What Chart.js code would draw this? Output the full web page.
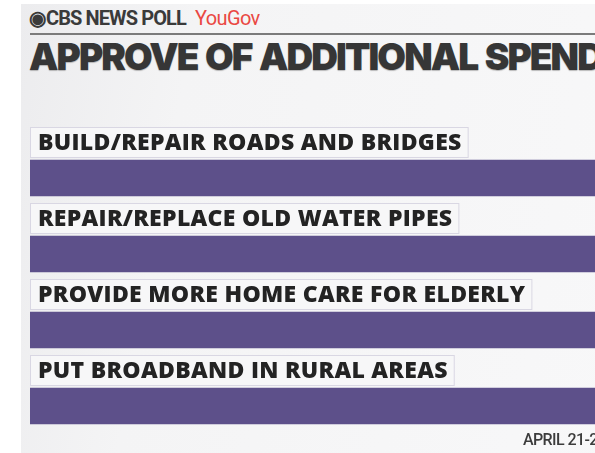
<!DOCTYPE html>
<html>
<head>
<meta charset="utf-8">
<script src="https://cdn.jsdelivr.net/npm/chart.js@4.4.1/dist/chart.umd.min.js"></script>
<style>
html, body { margin: 0; padding: 0; background: #fff; }
#wrap { position: relative; width: 595px; height: 453px; overflow: hidden; }
#panel { position: absolute; left: 21px; top: 4px; width: 620px; height: 470px;
  background: linear-gradient(100deg, #ececee 0%, #f4f4f5 25%, #f8f8f9 100%); }
#logo { position: absolute; left: 29px; top: 6px; font: bold 20px Roboto; letter-spacing: -0.9px;
  color: #3a3a3a; white-space: nowrap; }
#logo .eye { font-size: 20px; letter-spacing: 0; }
#logo .yg { color: #ea4843; font-weight: normal; margin-left: 9px; letter-spacing: -0.6px; }
#rule { position: absolute; left: 30px; top: 33px; width: 600px; height: 2px; background: #7b7b7b; }
#title { position: absolute; left: 29px; top: 34px; font: 900 37px Inter; letter-spacing: -1.9px;
  word-spacing: 2px; color: #363636; white-space: nowrap; text-shadow: 0 1px 1px rgba(0,0,0,0.25); }
#date { position: absolute; left: 523px; top: 430px; font: 500 16px Roboto; letter-spacing: -0.6px;
  color: #3c3c3c; white-space: nowrap; }
canvas { position: absolute; left: 0; top: 0; }
</style>
</head>
<body>
<div id="wrap">
  <div id="panel"></div>
  <div id="logo"><span class="eye">&#9673;</span>CBS NEWS POLL<span class="yg">YouGov</span></div>
  <div id="rule"></div>
  <div id="title">APPROVE OF ADDITIONAL SPENDING</div>
  <canvas id="chart" width="1000" height="453"></canvas>
  <div id="date">APRIL 21-24</div>
</div>
<script>
const categories = [
    'BUILD/REPAIR ROADS AND BRIDGES',
    'REPAIR/REPLACE OLD WATER PIPES',
    'PROVIDE MORE HOME CARE FOR ELDERLY',
    'PUT BROADBAND IN RURAL AREAS'
];
const approve = [87, 84, 78, 76];

// draws the boxed label above each bar
const labelBoxes = {
    id: 'labelBoxes',
    afterDatasetsDraw(chart) {
        const ctx = chart.ctx;
        const meta = chart.getDatasetMeta(0);
        ctx.save();
        ctx.font = '800 23px "Open Sans"';
        ctx.letterSpacing = '0.3px';
        ctx.textBaseline = 'middle';
        meta.data.forEach((bar, i) => {
            const text = chart.data.labels[i];
            const top = bar.y - bar.height / 2 - 33;
            const w = ctx.measureText(text).width + 14;
            ctx.fillStyle = '#f7f7f8';
            ctx.fillRect(30.5, top + 0.5, w, 30);
            ctx.strokeStyle = '#d9d7e3';
            ctx.lineWidth = 1;
            ctx.strokeRect(30.5, top + 0.5, w, 30);
            ctx.fillStyle = '#232323';
            ctx.fillText(text, 38, top + 16);
        });
        ctx.restore();
    }
};

const ctx = document.getElementById('chart').getContext('2d');
new Chart(ctx, {
    type: 'bar',
    data: {
        labels: categories,
        datasets: [{
            data: approve,
            backgroundColor: '#5d508a',
            borderWidth: 0,
            barThickness: 36
        }]
    },
    options: {
        indexAxis: 'y',
        responsive: false,
        animation: false,
        layout: { padding: { left: 30, top: 140, bottom: 9, right: 0 } },
        scales: {
            x: { display: false, min: 0, max: 100 },
            y: { display: false }
        },
        plugins: {
            legend: { display: false },
            tooltip: { enabled: false }
        }
    },
    plugins: [labelBoxes]
});
</script>
</body>
</html>
